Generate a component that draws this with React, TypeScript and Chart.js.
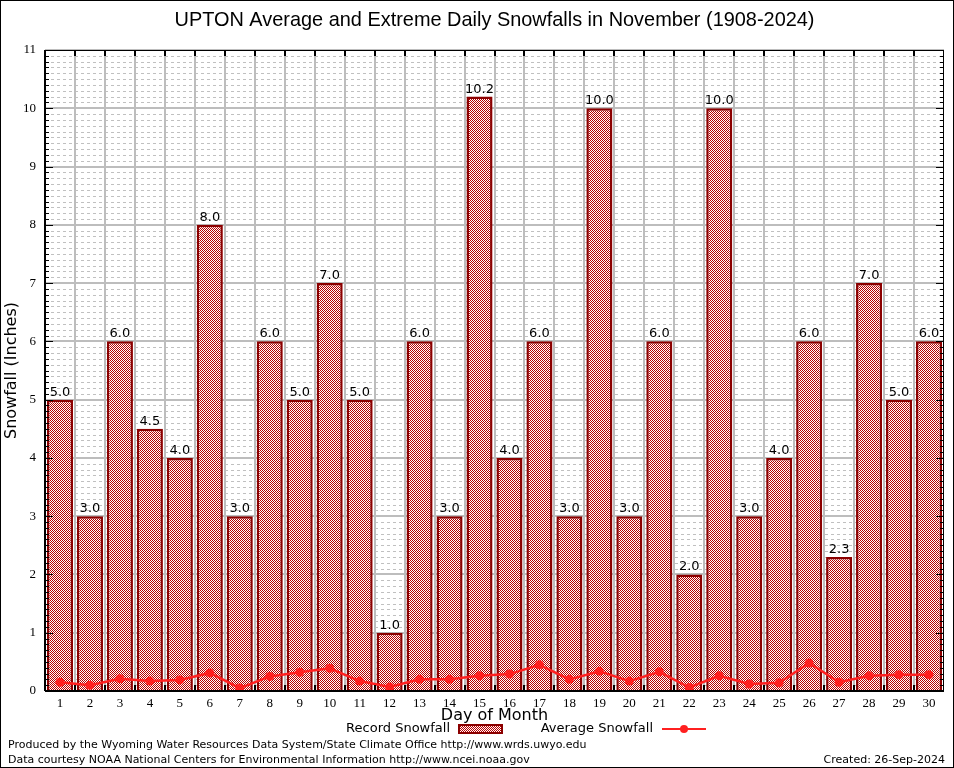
import React, { useEffect, useRef } from "react";
import { Chart, registerables } from "chart.js";

Chart.register(...registerables);

const days: string[] = Array.from({ length: 30 }, (_, i) => String(i + 1));
const recordSnowfall: number[] = [5.0, 3.0, 6.0, 4.5, 4.0, 8.0, 3.0, 6.0, 5.0, 7.0, 5.0, 1.0, 6.0, 3.0, 10.2, 4.0, 6.0, 3.0, 10.0, 3.0, 6.0, 2.0, 10.0, 3.0, 4.0, 6.0, 2.3, 7.0, 5.0, 6.0];
const averageSnowfall: number[] = [0.15, 0.10, 0.21, 0.17, 0.19, 0.31, 0.05, 0.25, 0.32, 0.39, 0.17, 0.07, 0.20, 0.20, 0.26, 0.29, 0.45, 0.20, 0.34, 0.17, 0.33, 0.06, 0.26, 0.12, 0.14, 0.48, 0.15, 0.26, 0.28, 0.28];
const yTickLabels: number[] = [0, 1, 2, 3, 4, 5, 6, 7, 8, 9, 10, 11];

const TITLE = "UPTON Average and Extreme Daily Snowfalls in November (1908-2024)";
const Y_TITLE = "Snowfall (Inches)";
const X_TITLE = "Day of Month";
const LEGEND_BAR = "Record Snowfall";
const LEGEND_LINE = "Average Snowfall";
const FOOT1 = "Produced by the Wyoming Water Resources Data System/State Climate Office http://www.wrds.uwyo.edu";
const FOOT2 = "Data courtesy NOAA National Centers for Environmental Information http://www.ncei.noaa.gov";
const CREATED = "Created: 26-Sep-2024";

const BAR_RED = "#b80000";
const BAR_BORDER = "#8b0000";
const LINE_RED = "#ff2020";

function makePattern(ctx: CanvasRenderingContext2D): CanvasPattern | string {
  const c = document.createElement("canvas");
  c.width = 2;
  c.height = 2;
  const p = c.getContext("2d");
  if (!p) return BAR_RED;
  p.fillStyle = "#ffffff";
  p.fillRect(0, 0, 2, 2);
  p.fillStyle = BAR_RED;
  p.fillRect(0, 0, 1, 1);
  p.fillRect(1, 1, 1, 1);
  const pat = ctx.createPattern(c, "repeat");
  return pat || BAR_RED;
}

export default function App() {
  const ref = useRef<HTMLCanvasElement | null>(null);

  useEffect(() => {
    document.body.style.margin = "0";
    const canvas = ref.current;
    if (!canvas) return;
    const ctx0 = canvas.getContext("2d");
    if (!ctx0) return;
    const pattern = makePattern(ctx0);

    const decor = {
      id: "decor",
      beforeDatasetsDraw(chart: any) {
        const { ctx, chartArea: a, scales } = chart;
        const y = scales.y;
        const x = scales.x;
        ctx.save();
        ctx.strokeStyle = "#c0c0c0";
        ctx.lineWidth = 1;
        ctx.setLineDash([3, 3]);
        for (let i = 1; i < 110; i++) {
          if (i % 10 === 0) continue;
          const py = Math.round(y.getPixelForValue(i / 10)) + 0.5;
          ctx.beginPath();
          ctx.moveTo(a.left, py);
          ctx.lineTo(a.right, py);
          ctx.stroke();
        }
        ctx.setLineDash([]);
        ctx.strokeStyle = "#bdbdbd";
        ctx.lineWidth = 2;
        for (const v of yTickLabels) {
          const py = Math.round(y.getPixelForValue(v));
          ctx.beginPath();
          ctx.moveTo(a.left, py);
          ctx.lineTo(a.right, py);
          ctx.stroke();
        }
        const step = x.getPixelForValue(1) - x.getPixelForValue(0);
        for (let i = 1; i < days.length; i++) {
          const px = Math.round(x.getPixelForValue(i) - step / 2);
          ctx.beginPath();
          ctx.moveTo(px, a.top);
          ctx.lineTo(px, a.bottom);
          ctx.stroke();
        }
        ctx.restore();
      },
      afterDatasetsDraw(chart: any) {
        const { ctx, chartArea: a, scales } = chart;
        const y = scales.y;
        const x = scales.x;
        ctx.save();
        const meta = chart.getDatasetMeta(0);
        ctx.fillStyle = "#000";
        ctx.font = "13px 'DejaVu Sans'";
        ctx.textAlign = "center";
        ctx.textBaseline = "alphabetic";
        meta.data.forEach((bar: any, i: number) => {
          ctx.fillText(recordSnowfall[i].toFixed(1), bar.x, bar.y - 4);
        });
        ctx.strokeStyle = "#000";
        ctx.lineWidth = 1;
        ctx.beginPath();
        ctx.rect(a.left + 0.5, a.top + 0.5, a.right - a.left - 1, a.bottom - a.top - 1);
        ctx.stroke();
        ctx.lineWidth = 2;
        ctx.beginPath();
        ctx.moveTo(a.left, a.bottom);
        ctx.lineTo(a.right, a.bottom);
        ctx.moveTo(a.left, a.top);
        ctx.lineTo(a.left, a.bottom);
        ctx.stroke();
        ctx.lineWidth = 1;
        for (let i = 0; i <= 110; i++) {
          const py = Math.round(y.getPixelForValue(i / 10)) + 0.5;
          const len = i % 10 === 0 ? 8 : 4;
          ctx.beginPath();
          ctx.moveTo(a.left, py);
          ctx.lineTo(a.left + len, py);
          ctx.moveTo(a.right, py);
          ctx.lineTo(a.right - len, py);
          ctx.stroke();
        }
        const step = x.getPixelForValue(1) - x.getPixelForValue(0);
        ctx.lineWidth = 2;
        for (let i = 1; i < days.length; i++) {
          const px = Math.round(x.getPixelForValue(i) - step / 2);
          ctx.beginPath();
          ctx.moveTo(px, a.bottom);
          ctx.lineTo(px, a.bottom - 6);
          ctx.moveTo(px, a.top);
          ctx.lineTo(px, a.top + 6);
          ctx.stroke();
        }
        ctx.restore();
      },
      afterDraw(chart: any) {
        const { ctx, chartArea: a, scales, width, height } = chart;
        const y = scales.y;
        const x = scales.x;
        ctx.save();
        ctx.fillStyle = "#000";
        ctx.font = "13px 'Liberation Serif'";
        ctx.textAlign = "right";
        ctx.textBaseline = "middle";
        for (const v of yTickLabels) {
          ctx.fillText(String(v), a.left - 9, y.getPixelForValue(v));
        }
        ctx.textAlign = "center";
        days.forEach((d, i) => {
          ctx.fillText(d, x.getPixelForValue(i), a.bottom + 13);
        });
        ctx.font = "21px 'Liberation Sans'";
        const tw = ctx.measureText(TITLE).width;
        const sx = 640 / tw;
        ctx.save();
        ctx.translate((a.left + a.right) / 2, 20);
        ctx.scale(sx, 1);
        ctx.fillText(TITLE, 0, 0);
        ctx.restore();
        ctx.font = "16px 'DejaVu Sans'";
        ctx.fillText(X_TITLE, (a.left + a.right) / 2, a.bottom + 25);
        ctx.save();
        ctx.translate(12, (a.top + a.bottom) / 2);
        ctx.rotate(-Math.PI / 2);
        ctx.fillText(Y_TITLE, 0, 0);
        ctx.restore();
        const ly = 729;
        ctx.font = "13px 'DejaVu Sans'";
        ctx.textAlign = "right";
        ctx.fillText(LEGEND_BAR, 450, ly);
        ctx.fillStyle = pattern as any;
        ctx.fillRect(459, ly - 4, 43, 8);
        ctx.strokeStyle = BAR_BORDER;
        ctx.lineWidth = 2;
        ctx.strokeRect(459, ly - 4, 43, 8);
        ctx.fillStyle = "#000";
        ctx.fillText(LEGEND_LINE, 653, ly);
        ctx.strokeStyle = LINE_RED;
        ctx.lineWidth = 2;
        ctx.beginPath();
        ctx.moveTo(662, ly);
        ctx.lineTo(706, ly);
        ctx.stroke();
        ctx.fillStyle = LINE_RED;
        ctx.beginPath();
        ctx.arc(684, ly, 4, 0, Math.PI * 2);
        ctx.fill();
        ctx.fillStyle = "#000";
        ctx.font = "11px 'DejaVu Sans'";
        ctx.textAlign = "left";
        ctx.fillText(FOOT1, 8, 745);
        ctx.fillText(FOOT2, 8, 760);
        ctx.textAlign = "right";
        ctx.fillText(CREATED, 945, 760);
        ctx.strokeStyle = "#000";
        ctx.lineWidth = 1;
        ctx.strokeRect(0.5, 0.5, width - 1, height - 1);
        ctx.restore();
      },
    };

    const chart = new Chart(canvas, {
      type: "bar",
      data: {
        labels: days,
        datasets: [
          {
            type: "bar",
            label: LEGEND_BAR,
            data: recordSnowfall,
            backgroundColor: pattern as any,
            borderColor: BAR_BORDER,
            borderWidth: 2.5,
            barPercentage: 0.87,
            categoryPercentage: 1,
            order: 2,
          },
          {
            type: "line",
            label: LEGEND_LINE,
            data: averageSnowfall,
            borderColor: LINE_RED,
            backgroundColor: LINE_RED,
            borderWidth: 2.5,
            pointRadius: 4.5,
            pointBackgroundColor: LINE_RED,
            pointBorderWidth: 0,
            tension: 0,
            order: 1,
          },
        ] as any,
      },
      options: {
        animation: false,
        responsive: false,
        devicePixelRatio: 1,
        layout: { padding: { left: 45, right: 10, top: 50, bottom: 77 } },
        plugins: { legend: { display: false }, tooltip: { enabled: false }, title: { display: false } },
        scales: {
          x: { display: false, offset: true },
          y: { display: false, min: 0, max: 11 },
        },
      },
      plugins: [decor],
    });
    return () => chart.destroy();
  }, []);

  return <canvas ref={ref} width={954} height={768} style={{ display: "block", width: 954, height: 768 }} />;
}
